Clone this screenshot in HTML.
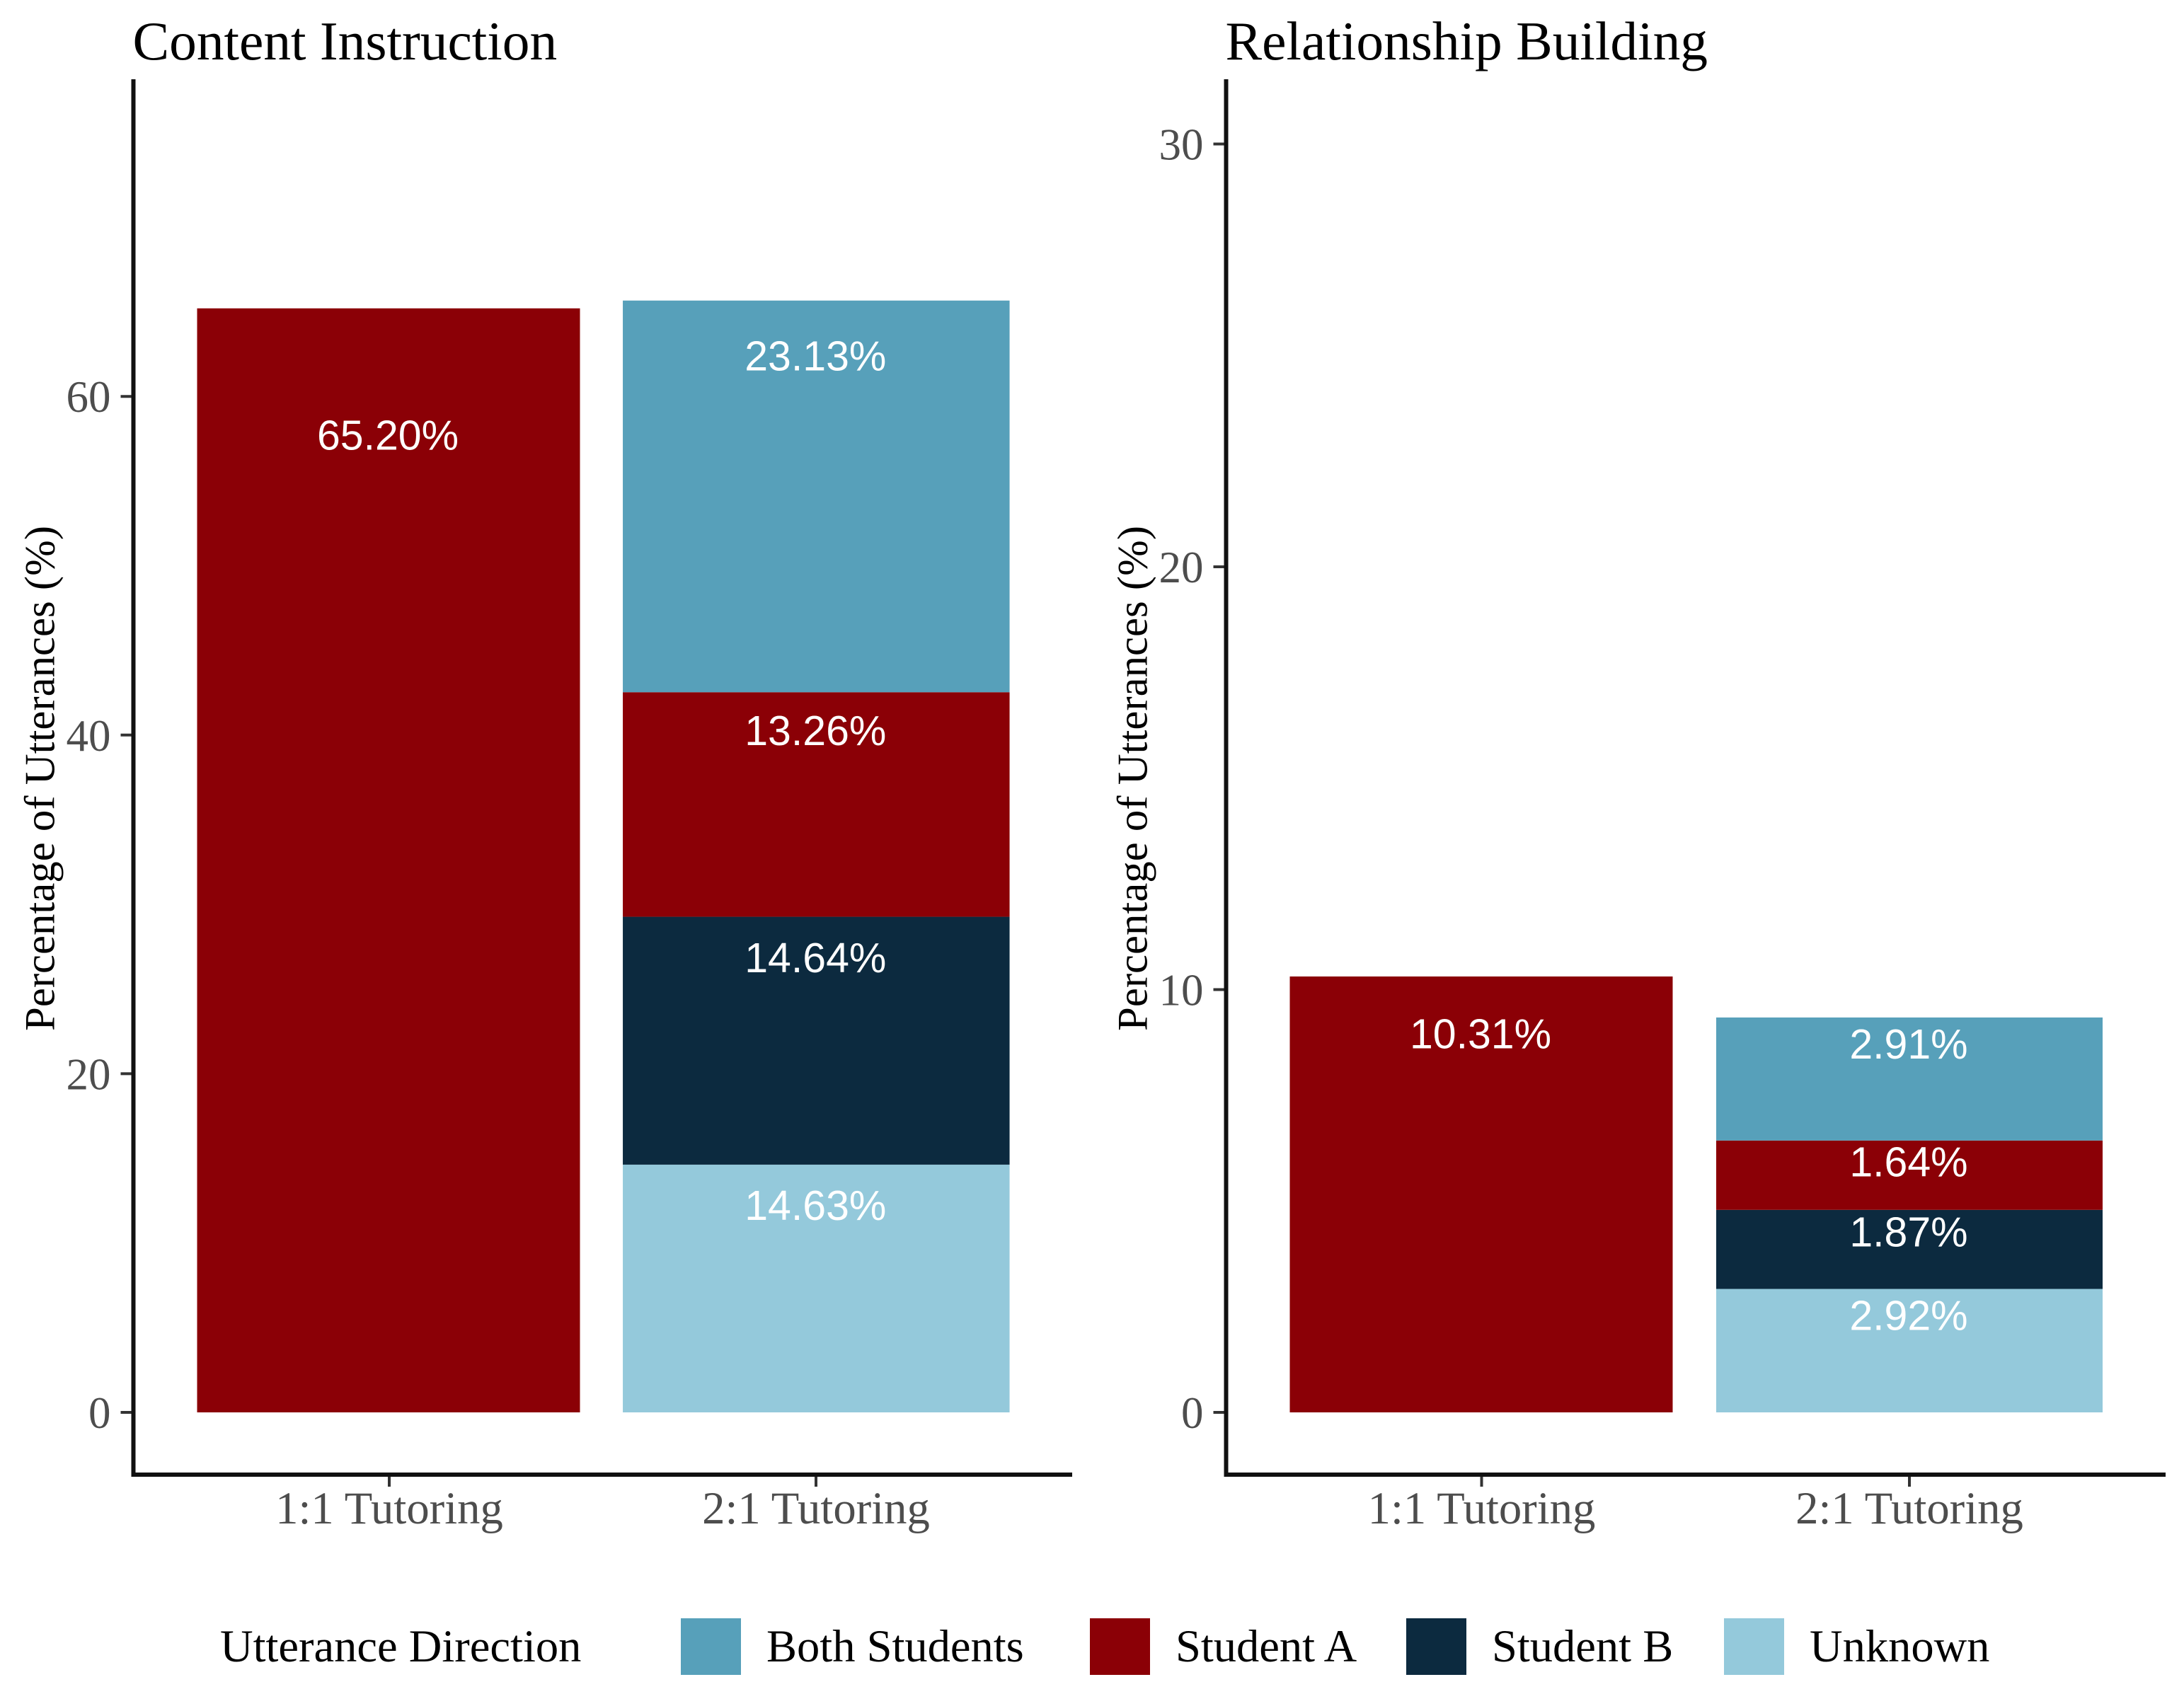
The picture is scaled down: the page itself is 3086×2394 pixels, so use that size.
<!DOCTYPE html>
<html lang="en">
<head>
<meta charset="utf-8">
<title>Percentage of Utterances by Tutoring Type</title>
<style>
  html, body { margin: 0; padding: 0; background: #fff; }
  svg { display: block; }
  text { font-family: "Liberation Serif", "Times New Roman", serif; }
  .val { font-family: "Liberation Sans", Arial, sans-serif; }
</style>
</head>
<body>
<svg id="chart" xmlns="http://www.w3.org/2000/svg" width="3086" height="2394" viewBox="0 0 3086 2394">
  <rect width="3086" height="2394" fill="#fff"/>
</svg>
<script>
// ---- data ----
const categories = ["1:1 Tutoring", "2:1 Tutoring"];
const seriesNames = ["Both Students", "Student A", "Student B", "Unknown"];
const contentBothStudents = [0, 23.13];
const contentStudentA = [65.20, 13.26];
const contentStudentB = [0, 14.64];
const contentUnknown = [0, 14.63];
const relationBothStudents = [0, 2.91];
const relationStudentA = [10.31, 1.64];
const relationStudentB = [0, 1.87];
const relationUnknown = [0, 2.92];
const contentTicks = [0, 20, 40, 60];
const relationTicks = [0, 10, 20, 30];
const legendTitle = "Utterance Direction";
const yAxisTitle = "Percentage of Utterances (%)";

// ---- style / layout ----
const colors = { "Both Students": "#57A0BA", "Student A": "#8B0006", "Student B": "#0C2A3F", "Unknown": "#94C9DB" };
const panels = [
  { key: "content", title: "Content Instruction", axisX: 188.5, right: 1515, unit: 23.93,
    ticks: contentTicks, series: [contentBothStudents, contentStudentA, contentStudentB, contentUnknown],
    centers: [549, 1153.3], widths: [541, 546.5], tickXs: [550, 1153], labA: 22, labB: 0.1005 },
  { key: "relationship", title: "Relationship Building", axisX: 1732.5, right: 3060, unit: 59.75,
    ticks: relationTicks, series: [relationBothStudents, relationStudentA, relationStudentB, relationUnknown],
    centers: [2093, 2698], widths: [541, 546], tickXs: [2093.5, 2698], labA: 20, labB: 0.098 }
];
const zeroY = 1996, axisTop = 112, axisBottom = 2084;
const legendX = [962, 1540, 1987, 2436];
const NS = "http://www.w3.org/2000/svg";
const svg = document.getElementById("chart");

function mk(tag, props, parent) {
  const el = document.createElementNS(NS, tag);
  for (const k in props) el.setAttribute(k, props[k]);
  (parent || svg).appendChild(el);
  return el;
}
function slug(s) { return s.toLowerCase().replace(/[^a-z0-9]+/g, "-").replace(/^-|-$/g, ""); }

panels.forEach(function (p) {
  const y = function (v) { return zeroY - v * p.unit; };

  const g = mk("g", {});
  
  

  const title = mk("text", { x: p.axisX - 1, y: 84, "font-size": 77.4, fill: "#000" }, g);
  title.textContent = p.title;
  
  

  // stacked bars: drawn bottom-up (last series at the bottom)
  categories.forEach(function (cat, c) {
    let cum = 0;
    for (let s = seriesNames.length - 1; s >= 0; s--) {
      const v = p.series[s][c];
      if (!v) continue;
      const top = y(cum + v), bottom = y(cum);
      const h = bottom - top;
      const rect = mk("rect", { x: p.centers[c] - p.widths[c] / 2, y: top, width: p.widths[c], height: h, fill: colors[seriesNames[s]] }, g);
      
      
      cum += v;
    }
    cum = 0;
    for (let s = seriesNames.length - 1; s >= 0; s--) {
      const v = p.series[s][c];
      if (!v) continue;
      const top = y(cum + v), h = y(cum) - top;
      const label = mk("text", { class: "val", x: p.centers[c] - 1, y: top + p.labA + p.labB * h + 21, "font-size": 59, "text-anchor": "middle", fill: "#fff" }, g);
      label.textContent = v.toFixed(2) + "%";
      
      
      cum += v;
    }
  });

  // y ticks
  p.ticks.forEach(function (t) {
    const tick = mk("line", { x1: p.axisX - 18, x2: p.axisX, y1: y(t), y2: y(t), stroke: "#333", "stroke-width": 4 }, g);
    
    
    const tl = mk("text", { x: p.axisX - 32, y: y(t) + 22, "font-size": 63, "text-anchor": "end", fill: "#4D4D4D" }, g);
    tl.textContent = t;
    
    
  });

  // x ticks
  categories.forEach(function (cat, c) {
    const tick = mk("line", { x1: p.tickXs[c], x2: p.tickXs[c], y1: axisBottom, y2: 2101, stroke: "#333", "stroke-width": 4 }, g);
    
    
    const tl = mk("text", { x: p.tickXs[c], y: 2153, "font-size": 64.7, "text-anchor": "middle", fill: "#4D4D4D" }, g);
    tl.textContent = cat;
    
    
  });

  // axis lines
  const yAxis = mk("line", { x1: p.axisX, x2: p.axisX, y1: axisTop, y2: axisBottom + 3, stroke: "#111", "stroke-width": 6 }, g);
  
  
  const xAxis = mk("line", { x1: p.axisX - 3, x2: p.right, y1: axisBottom, y2: axisBottom, stroke: "#111", "stroke-width": 6 }, g);
  
  

  // y axis title
  const yt = mk("text", { transform: "translate(" + (p.axisX - 112) + ",1100) rotate(-90)", "font-size": 60.8, "text-anchor": "middle", fill: "#000" }, g);
  yt.textContent = yAxisTitle;
  
  
});

// legend
const legend = mk("g", {});


const lt = mk("text", { x: 311, y: 2348, "font-size": 64.5, fill: "#000" }, legend);
lt.textContent = legendTitle;


seriesNames.forEach(function (name, i) {
  const sw = mk("rect", { x: legendX[i], y: 2287, width: 85, height: 80, fill: colors[name] }, legend);
  
  
  const tx = mk("text", { x: legendX[i] + 121, y: 2348, "font-size": 64.5, fill: "#000" }, legend);
  tx.textContent = name;
  
  
});
</script>
</body>
</html>
